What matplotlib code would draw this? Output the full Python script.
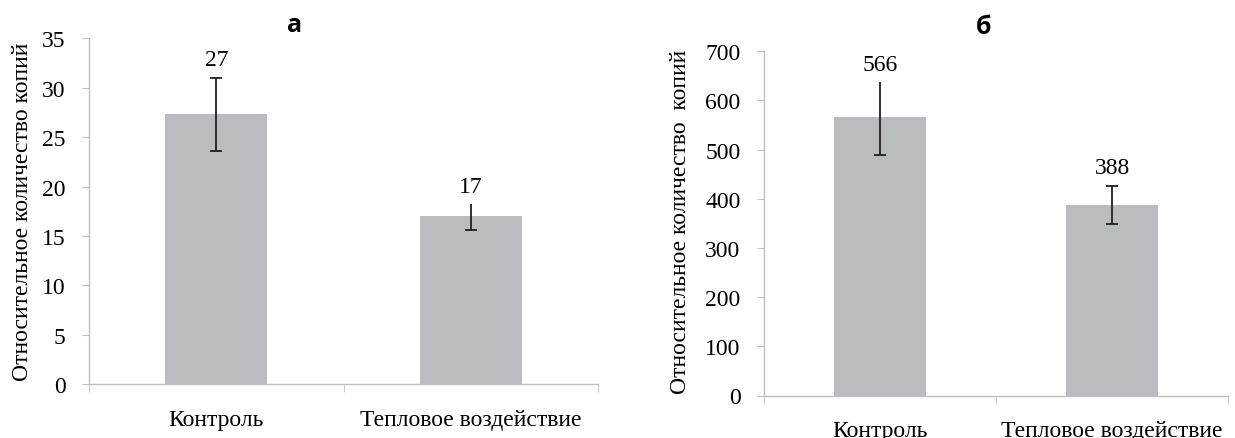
import numpy as np
import matplotlib.pyplot as plt

plt.rcParams['font.family'] = ['Liberation Serif', 'DejaVu Serif']

categories = ["Контроль", "Тепловое воздействие"]

# panel a
values_a = [27.3, 17.0]
err_lo_a = [3.7, 1.35]
err_hi_a = [3.7, 1.2]
labels_a = ["27", "17"]

# panel б
values_b = [566, 387]
err_lo_b = [76, 39]
err_hi_b = [71, 39]
labels_b = ["566", "388"]

BAR_COLOR = "#bbbcbf"
AXIS_COLOR = "#bfbfbf"
ERR_COLOR = "#231f20"
FS = 17

W, H = 1235, 439
fig = plt.figure(figsize=(W / 100, H / 100), dpi=100)


def px(x0, y0, x1, y1):
    # pixel box (top-left origin) -> figure fraction rect
    return [x0 / W, 1 - y1 / H, (x1 - x0) / W, (y1 - y0) / H]


def panel(rect, vals, lo, hi, labels, top_caps, ymax, ystep):
    ax = fig.add_axes(rect)
    x = np.arange(len(categories))
    ax.bar(x, vals, width=0.4, color=BAR_COLOR, zorder=2)
    for i in range(len(x)):
        _, caps, _ = ax.errorbar(x[i], vals[i], yerr=[[lo[i]], [hi[i]]],
                                 fmt="none", ecolor=ERR_COLOR, elinewidth=1.3,
                                 capsize=4, capthick=1.3, zorder=3)
        if not top_caps[i]:
            caps[1].set_visible(False)
        ax.annotate(labels[i], (x[i], vals[i] + hi[i]), xytext=(0, 13),
                    textcoords="offset points", ha="center", va="center",
                    fontsize=FS)
    ax.set_xlim(-0.5, 1.5)
    ax.set_ylim(0, ymax)
    ax.set_yticks(np.arange(0, ymax + ystep / 2, ystep))
    ax.set_xticks(x)
    ax.set_xticklabels(categories, fontsize=FS)
    ax.set_xticks([-0.5, 0.5, 1.5], minor=True)
    ax.tick_params(axis="x", which="major", length=0, pad=18)
    ax.tick_params(axis="x", which="minor", length=6, color=AXIS_COLOR, direction="out")
    ax.tick_params(axis="y", length=5, color=AXIS_COLOR, labelsize=FS, pad=12)
    for s in ["top", "right"]:
        ax.spines[s].set_visible(False)
    for s in ["left", "bottom"]:
        ax.spines[s].set_color(AXIS_COLOR)
        ax.spines[s].set_linewidth(1.0)
    return ax


panel(px(89, 39.3, 598, 385.3), values_a, err_lo_a, err_hi_a, labels_a,
      [True, False], 35, 5)
panel(px(764, 52.3, 1228, 396.5), values_b, err_lo_b, err_hi_b, labels_b,
      [False, True], 700, 100)

fig.text(295 / W, 1 - 25 / H, "а", ha="center", va="center", fontsize=18,
         fontweight="bold", family=["Open Sans", "DejaVu Sans"])
fig.text(984 / W, 1 - 27 / H, "б", ha="center", va="center", fontsize=18,
         fontweight="bold", family=["Open Sans", "DejaVu Sans"])

fig.text(23 / W, 1 - 212 / H, "Относительное количество копий", rotation=90,
         ha="center", va="center", fontsize=FS)
fig.text(681 / W, 1 - 222 / H, "Относительное количество  копий", rotation=90,
         ha="center", va="center", fontsize=FS)

fig.savefig("out.png", dpi=100, facecolor="white")
